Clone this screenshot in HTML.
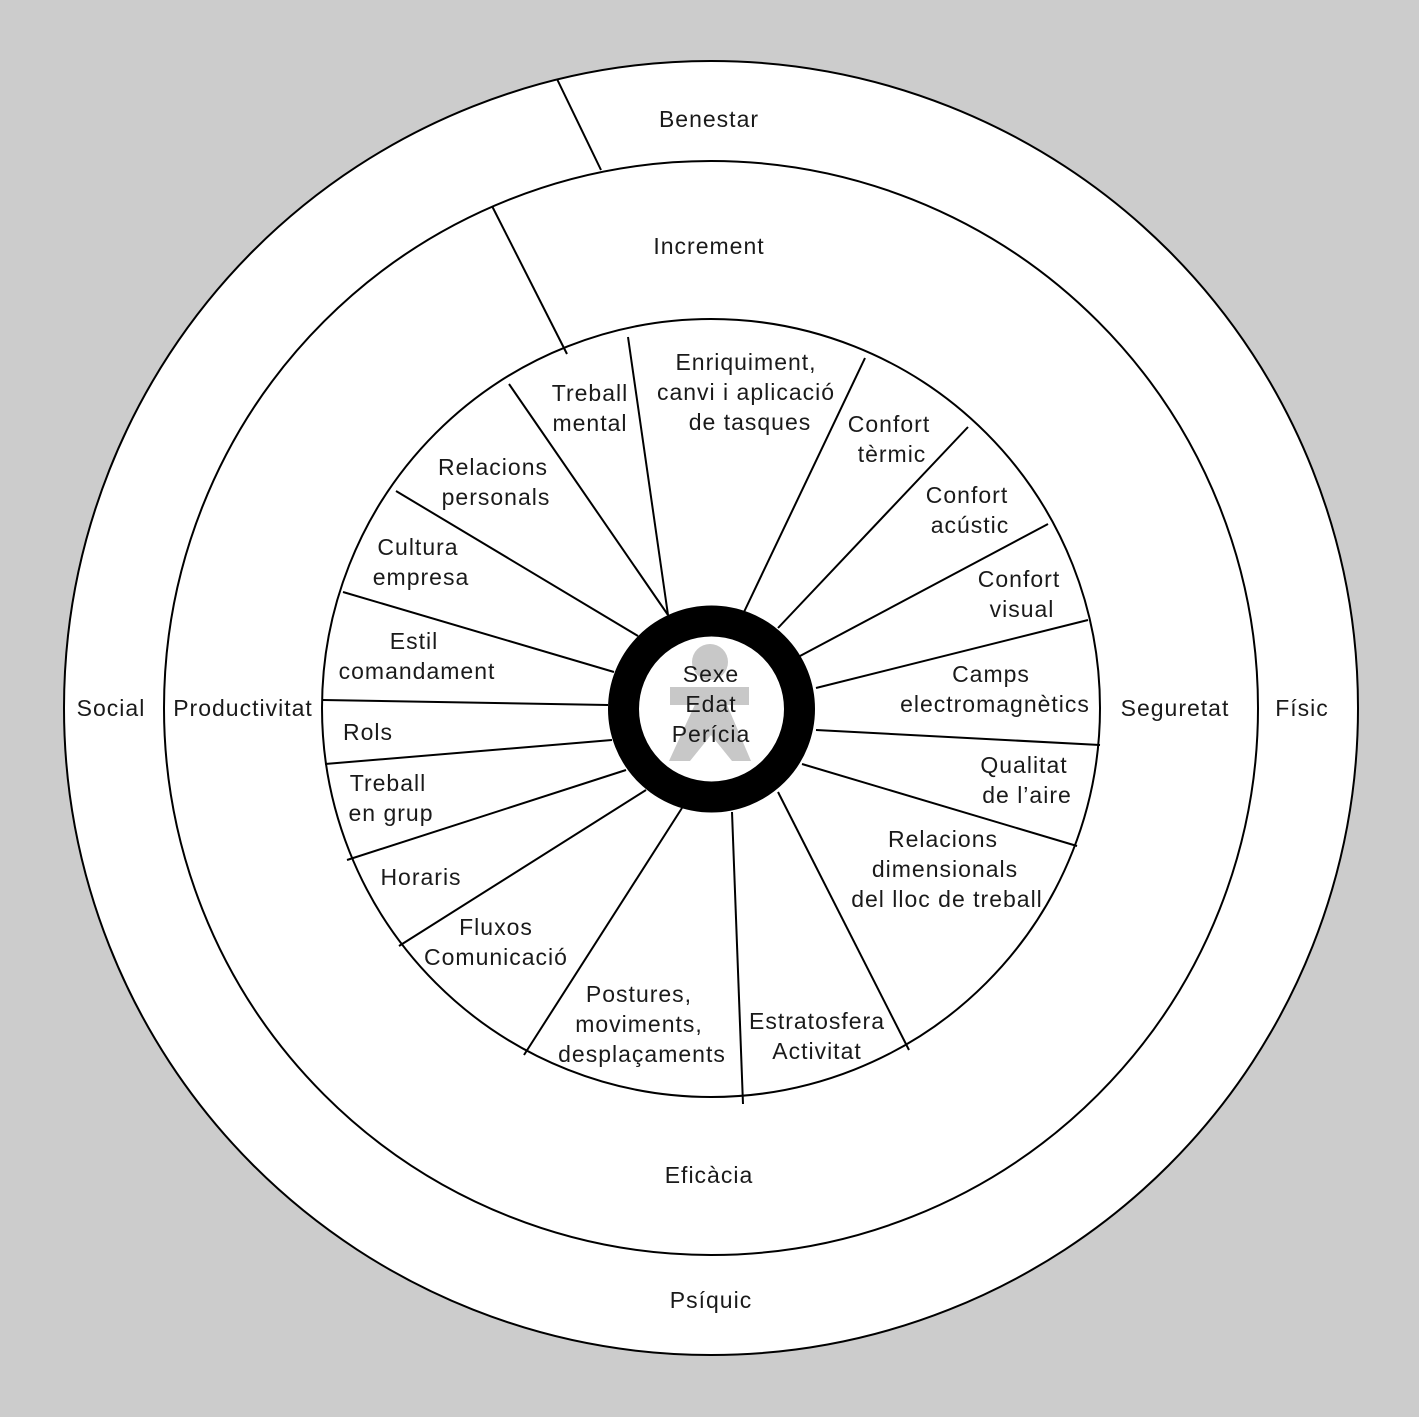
<!DOCTYPE html>
<html><head><meta charset="utf-8"><style>
html,body{margin:0;padding:0;background:#ccc}
svg{display:block}
text{font-family:"Liberation Sans",Arial,sans-serif;font-size:23px;letter-spacing:1px;fill:#1a1a1a;text-anchor:middle}
</style></head><body>
<svg width="1419" height="1417" viewBox="0 0 1419 1417" xmlns="http://www.w3.org/2000/svg">
<rect width="1419" height="1417" fill="#cccccc"/>
<g stroke="#000" stroke-width="2" fill="#fff">
<circle cx="711" cy="708" r="647"/>
<circle cx="711" cy="708" r="547"/>
<circle cx="711" cy="708" r="389"/>
</g>
<g stroke="#000" stroke-width="2">
<line x1="557" y1="79" x2="601" y2="170"/>
<line x1="492" y1="206" x2="567" y2="354"/>
<line x1="628" y1="337" x2="668" y2="615"/>
<line x1="865" y1="358" x2="744" y2="612"/>
<line x1="968" y1="427" x2="778" y2="628"/>
<line x1="1048" y1="524" x2="800" y2="656"/>
<line x1="1088" y1="620" x2="816" y2="688"/>
<line x1="1100" y1="745" x2="816" y2="730"/>
<line x1="1077" y1="846" x2="802" y2="764"/>
<line x1="909" y1="1050" x2="778" y2="792"/>
<line x1="743" y1="1104" x2="732" y2="812"/>
<line x1="524" y1="1055" x2="682" y2="808"/>
<line x1="399" y1="946" x2="646" y2="790"/>
<line x1="347" y1="860" x2="626" y2="770"/>
<line x1="325" y1="764" x2="612" y2="740"/>
<line x1="323" y1="700" x2="608" y2="705"/>
<line x1="343" y1="592" x2="614" y2="672"/>
<line x1="396" y1="491" x2="638" y2="636"/>
<line x1="509" y1="384" x2="668" y2="615"/>
</g>
<circle cx="711.5" cy="709" r="88" fill="#fff" stroke="#000" stroke-width="31"/>
<g fill="#c8c8c8">
<circle cx="710" cy="662" r="18"/>
<rect x="670" y="687" width="79" height="18"/>
<polygon points="697,700 725,700 751,761 732,761 711,735 690,761 669,761"/>
</g>
<text x="711" y="682">Sexe</text>
<text x="711" y="712">Edat</text>
<text x="711" y="742">Perícia</text>
<text x="709" y="127">Benestar</text>
<text x="709" y="254">Increment</text>
<text x="111" y="716">Social</text>
<text x="243" y="716">Productivitat</text>
<text x="1175" y="716">Seguretat</text>
<text x="1302" y="716">Físic</text>
<text x="709" y="1183">Eficàcia</text>
<text x="711" y="1308">Psíquic</text>
<text x="590" y="401">Treball</text><text x="590" y="431">mental</text>
<text x="746" y="370">Enriquiment,</text><text x="746" y="400">canvi i aplicació</text><text x="750" y="430">de tasques</text>
<text x="889" y="432">Confort</text><text x="892" y="462">tèrmic</text>
<text x="967" y="503">Confort</text><text x="970" y="533">acústic</text>
<text x="1019" y="587">Confort</text><text x="1022" y="617">visual</text>
<text x="991" y="682">Camps</text><text x="995" y="712">electromagnètics</text>
<text x="1024" y="773">Qualitat</text><text x="1027" y="803">de l’aire</text>
<text x="943" y="847">Relacions</text><text x="945" y="877">dimensionals</text><text x="947" y="907">del lloc de treball</text>
<text x="817" y="1029">Estratosfera</text><text x="817" y="1059">Activitat</text>
<text x="639" y="1002">Postures,</text><text x="639" y="1032">moviments,</text><text x="642" y="1062">desplaçaments</text>
<text x="496" y="935">Fluxos</text><text x="496" y="965">Comunicació</text>
<text x="421" y="885">Horaris</text>
<text x="388" y="791">Treball</text><text x="391" y="821">en grup</text>
<text x="368" y="740">Rols</text>
<text x="414" y="649">Estil</text><text x="417" y="679">comandament</text>
<text x="418" y="555">Cultura</text><text x="421" y="585">empresa</text>
<text x="493" y="475">Relacions</text><text x="496" y="505">personals</text>
</svg>
</body></html>
